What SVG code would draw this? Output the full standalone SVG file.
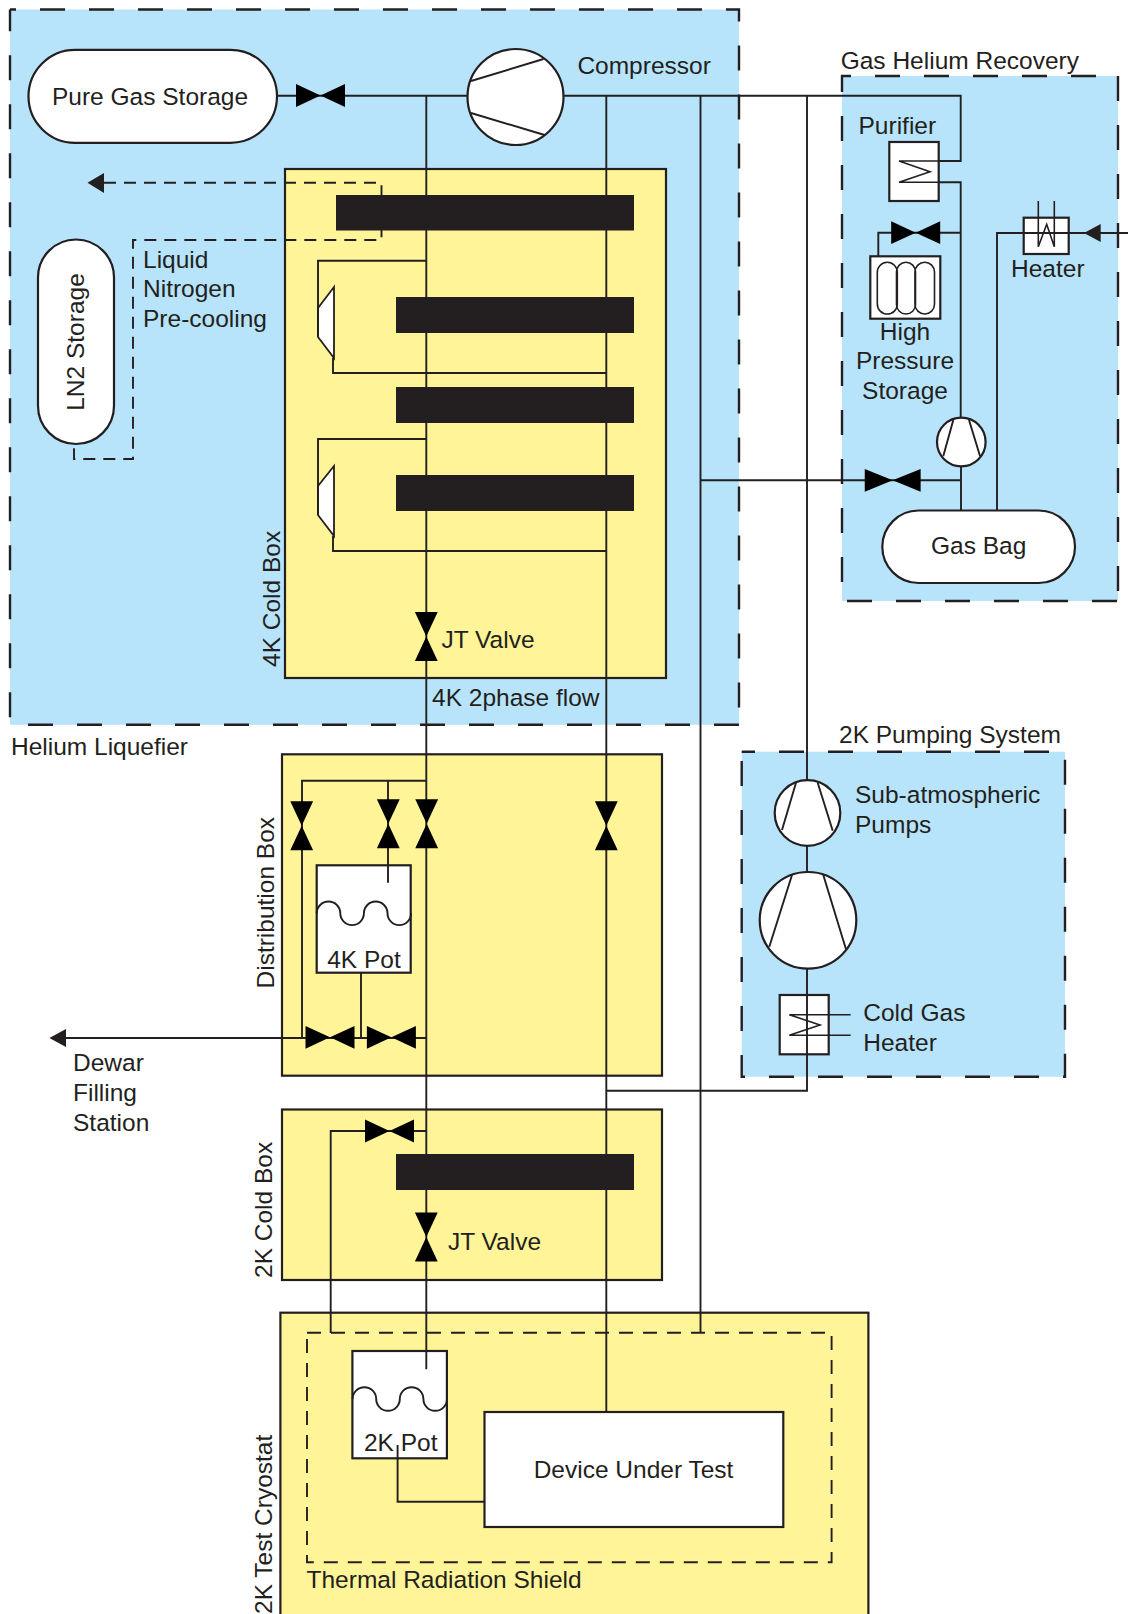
<svg xmlns="http://www.w3.org/2000/svg" width="1128" height="1614" viewBox="0 0 1128 1614">
<style>
text{font-family:"Liberation Sans",Arial,sans-serif;font-size:24.5px;fill:#231f20}
.c{text-anchor:middle}
.fill{fill:#b7e4fa}
.region{fill:none;stroke:#231f20;stroke-width:2.4;stroke-dasharray:25 24}
.box{fill:#fff497;stroke:#231f20;stroke-width:2.2}
.node{fill:#fff;stroke:#231f20;stroke-width:2.2}
.thin{fill:none;stroke:#231f20;stroke-width:1.6}
.line{fill:none;stroke:#231f20;stroke-width:1.9}
.dash{fill:none;stroke:#231f20;stroke-width:1.9;stroke-dasharray:12 8}
.shield{fill:none;stroke:#231f20;stroke-width:1.9;stroke-dasharray:14 10}
.bar{fill:#231f20}
.blk{fill:#000}
.arrow{fill:#231f20}
</style>
<defs>
<g id="valve"><polygon class="blk" points="-24.5,-11.4 0,0 -24.5,11.4"/><polygon class="blk" points="24.5,-11.4 0,0 24.5,11.4"/></g>
<path id="wave" class="line" d="M0 0a11.8 11.8 0 0 1 23.6 0a11.8 11.8 0 0 0 23.6 0a11.8 11.8 0 0 1 23.6 0a11.8 11.8 0 0 0 23.6 0"/>
</defs>

<g id="regions">
<g id="helium-liquefier"><rect class="fill" x="10" y="9.5" width="729" height="715.3"/><path class="region" style="stroke-dashoffset:19" d="M10 9.5H739V724.8"/><path class="region" d="M739 724.8H10"/><path class="region" style="stroke-dashoffset:41.5" d="M10 724.8V9.5"/><text x="11" y="755">Helium Liquefier</text></g>
<g id="gas-helium-recovery"><rect class="fill" x="842" y="76" width="276" height="525"/><path class="region" d="M1096 76H842V601H1118"/><path class="region" d="M1118 76V601"/><text x="840.7" y="69">Gas Helium Recovery</text></g>
<g id="pumping-system"><rect class="fill" x="741.7" y="751.7" width="323.3" height="325"/><rect class="region" style="stroke-dashoffset:11.7" x="741.7" y="751.7" width="323.3" height="325"/><text x="839" y="743">2K Pumping System</text></g>
<g id="cold-box-4k"><rect class="box" x="285" y="169" width="381" height="509"/><text transform="translate(279.7 667) rotate(-90)">4K Cold Box</text></g>
<g id="distribution-box"><rect class="box" x="282" y="754.3" width="380" height="321.4"/><text transform="translate(273.5 988.5) rotate(-90)">Distribution Box</text></g>
<g id="cold-box-2k"><rect class="box" x="282" y="1109.5" width="380" height="170.5"/><text transform="translate(272 1278) rotate(-90)">2K Cold Box</text></g>
<g id="test-cryostat"><rect class="box" x="280.4" y="1312.7" width="588" height="310"/><text transform="translate(271.5 1614) rotate(-90)">2K Test Cryostat</text></g>
</g>

<g id="thermal-radiation-shield"><rect class="shield" x="307" y="1332.7" width="524.6" height="229.6"/><text x="306.5" y="1588">Thermal Radiation Shield</text></g>

<g id="pure-gas-storage"><rect class="node" x="28.5" y="49.8" width="248.5" height="93" rx="46.5"/><text class="c" x="150" y="105">Pure Gas Storage</text></g>
<g id="compressor"><circle class="node" cx="515.5" cy="97" r="48"/><path class="line" d="M471 81L543.5 59M471 113L544.6 135"/><text x="577.4" y="74">Compressor</text></g>
<g id="ln2-storage"><rect class="node" x="38" y="239.5" width="76" height="204.5" rx="38"/><text class="c" transform="translate(84 342) rotate(-90)">LN2 Storage</text></g>
<g id="purifier"><rect class="node" x="889.3" y="142" width="49.4" height="59"/><path class="thin" d="M938 161H899L930 171.7L899 182.3H938"/><text x="858.5" y="133.7">Purifier</text></g>
<g id="high-pressure-storage"><rect class="node" x="870.3" y="256.3" width="70" height="62.4"/><rect class="thin" x="877.3" y="262.3" width="20" height="51.7" rx="10"/><rect class="thin" x="896.5" y="262.3" width="19" height="51.7" rx="9.5"/><rect class="thin" x="915" y="262.3" width="19.5" height="51.7" rx="9.7"/><text class="c" x="905" y="339.5">High</text><text class="c" x="905" y="369.3">Pressure</text><text class="c" x="905" y="399.3">Storage</text></g>
<g id="heater"><rect class="node" x="1023.7" y="217.7" width="45" height="36.3"/><text x="1011" y="277">Heater</text></g>
<g id="recovery-compressor"><circle class="node" cx="961.3" cy="442" r="24.3"/><path class="line" d="M953.3 420L943.3 456M969 420L980 456"/></g>
<g id="gas-bag"><rect class="node" x="882.3" y="510.5" width="192.7" height="72.5" rx="36.2"/><text class="c" x="978.7" y="553.5">Gas Bag</text></g>
<g id="sub-atmospheric-pump-1"><circle class="node" cx="807.5" cy="813" r="32.8"/><path class="line" d="M796 782.7L782 830M817.7 782.7L832.7 830.7"/><text x="855" y="803">Sub-atmospheric</text><text x="855" y="833">Pumps</text></g>
<g id="sub-atmospheric-pump-2"><circle class="node" cx="808" cy="920.3" r="48.3"/><path class="line" d="M792 875L769.3 946.7M823.3 875L846 949.3"/></g>
<g id="cold-gas-heater"><rect class="node" x="779.7" y="995" width="49" height="59.3"/><text x="863.3" y="1021">Cold Gas</text><text x="863.3" y="1050.5">Heater</text></g>
<g id="pot-4k"><rect class="node" x="316.7" y="865.3" width="94" height="107.4"/><use href="#wave" x="316.7" y="913.3"/><text class="c" x="364" y="967.5">4K Pot</text></g>
<g id="pot-2k"><rect class="node" x="352.4" y="1351" width="94.5" height="107.3"/><use href="#wave" x="352.6" y="1399"/><text class="c" x="400.7" y="1450.7">2K Pot</text></g>
<g id="device-under-test"><rect class="node" x="484.5" y="1412" width="298.8" height="115"/><text class="c" x="633.5" y="1477.7">Device Under Test</text></g>
<g id="turbine-1"><polygon class="node" style="stroke-width:1.8" points="334,287 318,308 318,337 334,358"/></g>
<g id="turbine-2"><polygon class="node" style="stroke-width:1.8" points="334,466 318,486 318,515 334,536"/></g>

<g id="connectors">
<path class="line" d="M277 95.7H467.5M563.5 95.7H960.7V161H938.7"/>
<path class="line" d="M426.3 95.7V1369.3"/>
<path class="line" d="M606.3 95.7V1412"/>
<path class="line" d="M700.5 95.7V1333"/>
<path class="line" d="M807 95.7V780M807 846V872M807 969V1090.7H606.3"/>
<path class="line" d="M938.7 182.3H960.7V417.7"/>
<path class="line" d="M960.7 232.7H878.3V256.3"/>
<path class="line" d="M700.5 480.3H961M961 466.5V510"/>
<path class="line" d="M1128 233H997V510"/>
<path class="thin" d="M1038.3 201V246.7L1046.7 224.3L1054.3 246.7V201"/>
<path class="thin" d="M850.7 1014.7H789.3L820 1025L789.3 1035.3H850.7"/>
<path class="line" d="M426 260.7H318V337M333 358V373H606"/>
<path class="line" d="M426 439H318V515M333 536V551H606"/>
<path class="dash" d="M104 182.7H381.5V240H133V459H74V444"/>
<path class="line" d="M426 780.7H302V1038"/>
<path class="line" d="M388 780.7V882.7"/>
<path class="line" d="M361 972.7V1038"/>
<path class="line" d="M66 1038H426"/>
<path class="line" d="M426 1131H330.7V1333"/>
<path class="line" d="M397.6 1445V1501.7H484.5"/>
<polygon class="arrow" points="87.5,182.7 104,173 104,193"/>
<polygon class="arrow" points="1084,233 1100.7,224 1100.7,242"/>
<polygon class="arrow" points="49.4,1038 66,1029 66,1047"/>
</g>

<g id="heat-exchangers">
<rect class="bar" x="336" y="195" width="298" height="35.5"/>
<rect class="bar" x="396" y="297" width="238" height="36"/>
<rect class="bar" x="396" y="387" width="238" height="36"/>
<rect class="bar" x="396" y="475" width="238" height="36"/>
<rect class="bar" x="396" y="1154" width="238" height="36"/>
</g>

<g id="valves">
<use href="#valve" transform="translate(320.5 95.5)"/>
<use href="#valve" transform="translate(915.7 232.7)"/>
<use href="#valve" transform="translate(892.7 480.3) scale(1.14 1)"/>
<use href="#valve" transform="translate(426.3 636.5) rotate(90)"/>
<use href="#valve" transform="translate(301.7 825.7) rotate(90)"/>
<use href="#valve" transform="translate(388.3 823.8) rotate(90)"/>
<use href="#valve" transform="translate(426.7 823.8) rotate(90)"/>
<use href="#valve" transform="translate(606.3 825.7) rotate(90)"/>
<use href="#valve" transform="translate(330 1037.3)"/>
<use href="#valve" transform="translate(391.4 1037.3)"/>
<use href="#valve" transform="translate(389.5 1131)"/>
<use href="#valve" transform="translate(426.3 1237) rotate(90)"/>
</g>

<g id="labels">
<text x="143" y="267.7">Liquid</text><text x="143" y="296.7">Nitrogen</text><text x="143" y="326.7">Pre-cooling</text>
<text x="441.5" y="648">JT Valve</text>
<text x="432" y="705.5">4K 2phase flow</text>
<text x="448" y="1249.5">JT Valve</text>
<text x="73" y="1070.5">Dewar</text><text x="73" y="1101">Filling</text><text x="73" y="1131">Station</text>
</g>
</svg>
